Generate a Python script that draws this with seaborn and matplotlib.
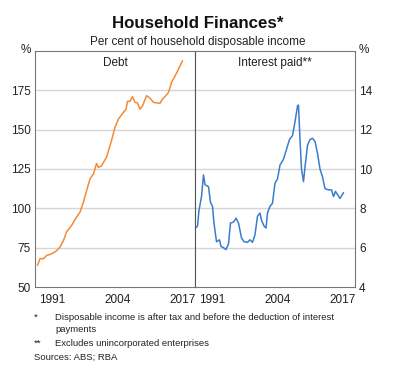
import matplotlib
matplotlib.use("Agg")
import matplotlib.pyplot as plt
import seaborn as sns
import pandas as pd
import numpy as np

debt_years = [1988.5, 1989.0, 1989.7, 1990.3, 1991.3, 1992.3, 1993.0, 1993.7, 1994.3, 1995.3,
              1996.3, 1997.0, 1997.7, 1998.3, 1999.0, 1999.7, 2000.3, 2000.7, 2001.3, 2002.3,
              2003.3, 2004.0, 2004.7, 2005.7, 2006.2, 2006.5, 2007.0, 2007.5, 2008.0, 2008.5,
              2009.0, 2009.5, 2010.3, 2011.0, 2011.7, 2012.3, 2013.0, 2013.5, 2014.0, 2014.7,
              2015.3, 2016.0, 2016.7, 2017.5]
debt_vals = [63.7, 68, 68, 70, 71, 73, 75.4, 79.6, 85, 89,
             94.4, 97.6, 104, 111, 118.7, 122, 128.5, 126, 127, 132.5,
             143, 151.5, 156.8, 161, 163, 168, 168, 171, 167.4, 167,
             163, 165, 171.6, 170, 167.4, 167, 166.8, 169.5, 171, 173.7,
             180, 184, 188.5, 193.8]

int_years = [1988.1, 1988.5, 1988.8, 1989.3, 1989.7, 1990.0, 1990.7, 1991.1, 1991.5, 1991.8,
             1992.3, 1992.9, 1993.2, 1993.7, 1994.2, 1994.7, 1995.1, 1995.7, 1996.2, 1996.7,
             1997.3, 1997.8, 1998.5, 1999.0, 1999.5, 2000.0, 2000.5, 2001.0, 2001.3, 2001.8,
             2002.2, 2002.5, 2003.0, 2003.5, 2004.0, 2004.5, 2005.0, 2005.7, 2006.3, 2006.9,
             2007.5, 2008.0, 2008.5, 2008.7, 2009.0, 2009.3, 2009.7, 2010.0, 2010.5, 2011.0,
             2011.5, 2012.0, 2012.5, 2013.0, 2013.5, 2014.0, 2014.7, 2015.3, 2015.7, 2016.1,
             2016.5, 2017.0, 2017.7]
int_vals = [7.0, 7.1, 7.9, 8.6, 9.7, 9.2, 9.1, 8.3, 8.1, 7.25,
            6.3, 6.4, 6.06, 6.0, 5.9, 6.2, 7.25, 7.3, 7.5, 7.25,
            6.5, 6.3, 6.27, 6.4, 6.27, 6.66, 7.6, 7.76, 7.4, 7.1,
            7.0, 7.76, 8.1, 8.26, 9.28, 9.5, 10.2, 10.5, 11.0, 11.5,
            11.7, 12.4, 13.2, 13.25, 11.5, 10.0, 9.36, 10.1, 11.2, 11.5,
            11.56, 11.4, 10.8, 10.0, 9.6, 9.0, 8.94, 8.94, 8.6, 8.86,
            8.7, 8.5, 8.8]

left_ticks = [50, 75, 100, 125, 150, 175]
right_ticks = [4, 6, 8, 10, 12, 14]
year_labels = [1991, 2004, 2017]

sns.set_style("white")
plt.rcParams['font.family'] = ['Arial', 'Liberation Sans', 'DejaVu Sans']

W, H = 396, 368
fig = plt.figure(figsize=(W / 100, H / 100), dpi=100)

def rect(x0, x1, y0, y1):
    return [x0 / W, 1 - y1 / H, (x1 - x0) / W, (y1 - y0) / H]

ax1 = fig.add_axes(rect(35, 195, 51, 287))
ax2 = fig.add_axes(rect(195, 355, 51, 287))

df_d = pd.DataFrame({"year": debt_years, "value": debt_vals})
df_i = pd.DataFrame({"year": int_years, "value": int_vals})

grid_c = "#d6d6d6"
for ax, lim, ticks in [(ax1, (50, 200), left_ticks), (ax2, (4, 16), right_ticks)]:
    ax.set_xlim(1988, 2020)
    ax.set_ylim(*lim)
    ax.set_yticks(ticks)
    for t in ticks[1:]:
        ax.axhline(t, color=grid_c, lw=1.0, zorder=0)
    ax.set_xticks(np.arange(1988, 2021, 1), minor=True)
    ax.set_xticks([y + 0.5 for y in year_labels])
    ax.set_xticklabels([str(y) for y in year_labels])
    ax.tick_params(axis='x', which='minor', direction='in', length=3, width=0.6, color='#555555')
    ax.tick_params(axis='x', which='major', length=0, pad=5, labelsize=8.5, colors='#222222')
    ax.tick_params(axis='y', length=0, labelsize=8.5, colors='#222222', pad=3)
    for s in ax.spines.values():
        s.set_color('#777777')
        s.set_linewidth(0.8)

sns.lineplot(data=df_d, x="year", y="value", ax=ax1, color="#f58a34", lw=1.1)
sns.lineplot(data=df_i, x="year", y="value", ax=ax2, color="#3a7dcc", lw=1.1)
for ax in (ax1, ax2):
    ax.set_xlabel("")
    ax.set_ylabel("")

ax2.yaxis.tick_right()
ax2.tick_params(axis='y', which='both', left=False, right=False, labelleft=False, labelright=True)
ax2.spines['left'].set_color('#555555')

ax1.text(0.5, 0.975, "Debt", transform=ax1.transAxes, ha='center', va='top', fontsize=8.5, color='#222222')
ax2.text(0.5, 0.975, "Interest paid**", transform=ax2.transAxes, ha='center', va='top', fontsize=8.5, color='#222222')

fig.text(31 / W, 1 - 50 / H, "%", ha='right', va='center', fontsize=8.5, color='#222222')
fig.text(359 / W, 1 - 50 / H, "%", ha='left', va='center', fontsize=8.5, color='#222222')

fig.text(0.5, 1 - 24 / H, "Household Finances*", ha='center', va='center', fontsize=12.2, fontweight='bold', color='#111111')
fig.text(0.5, 1 - 42 / H, "Per cent of household disposable income", ha='center', va='center', fontsize=8.5, color='#222222')

fs = 6.8
fig.text(34 / W, 1 - 317 / H, "*", ha='left', va='center', fontsize=fs, color='#222222')
fig.text(55 / W, 1 - 317 / H, "Disposable income is after tax and before the deduction of interest", ha='left', va='center', fontsize=fs, color='#222222')
fig.text(55 / W, 1 - 329 / H, "payments", ha='left', va='center', fontsize=fs, color='#222222')
fig.text(34 / W, 1 - 343 / H, "**", ha='left', va='center', fontsize=fs, color='#222222')
fig.text(55 / W, 1 - 343 / H, "Excludes unincorporated enterprises", ha='left', va='center', fontsize=fs, color='#222222')
fig.text(34 / W, 1 - 357 / H, "Sources: ABS; RBA", ha='left', va='center', fontsize=fs, color='#222222')

fig.savefig("out.png", dpi=100)
